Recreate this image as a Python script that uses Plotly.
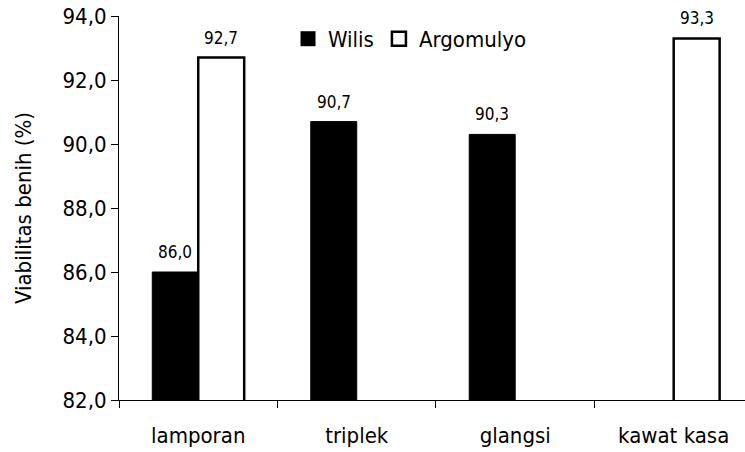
import plotly.graph_objects as go

# Seed viability by storage container, two soybean varieties
categories = ["lamporan", "triplek", "glangsi", "kawat kasa"]
wilis = [86.0, 90.7, 90.3, None]
argomulyo = [92.7, None, None, 93.3]
y_ticks = [82, 84, 86, 88, 90, 92, 94]

FONT = "DejaVu Sans Condensed, DejaVu Sans, sans-serif"

fig = go.Figure()

fig.add_trace(go.Bar(
    x=categories, y=wilis, name="Wilis", showlegend=False,
    marker=dict(color="black", line=dict(color="black", width=1)),
))
fig.add_trace(go.Bar(
    x=categories, y=argomulyo, name="Argomulyo", showlegend=False,
    marker=dict(color="white", line=dict(color="black", width=2.5)),
))

# Legend entries with larger square swatches
fig.add_trace(go.Scatter(
    x=[None], y=[None], mode="markers", name="Wilis",
    marker=dict(symbol="square", size=15, color="black",
                line=dict(color="black", width=0)),
))
fig.add_trace(go.Scatter(
    x=[None], y=[None], mode="markers", name="Argomulyo",
    marker=dict(symbol="square", size=14, color="white",
                line=dict(color="black", width=2.5)),
))

# Value labels above each bar
def fmt(v):
    return f"{v:.1f}".replace(".", ",")

for series, shift in ((wilis, -23), (argomulyo, 23)):
    for cat, v in zip(categories, series):
        if v is None:
            continue
        fig.add_annotation(
            x=cat, y=v, text=fmt(v), showarrow=False,
            xanchor="center", yanchor="bottom", xshift=shift, yshift=8,
            font=dict(family=FONT, size=17, color="black"),
        )

fig.update_layout(
    width=745, height=452,
    margin=dict(l=119, r=0, t=16, b=52),
    paper_bgcolor="white", plot_bgcolor="white",
    barmode="group", bargap=0.42, bargroupgap=0,
    separators=",.",
    font=dict(family=FONT, size=22, color="black"),
    legend=dict(
        orientation="h", x=0.27, xanchor="left", y=0.995, yanchor="top",
        font=dict(family=FONT, size=22, color="black"),
        bgcolor="rgba(0,0,0,0)", itemclick=False, itemdoubleclick=False,
    ),
)

fig.update_xaxes(
    type="category", range=[-0.5, 3.45],
    showline=True, linecolor="black", linewidth=1,
    ticks="outside", ticklen=7, tickcolor="black", tickson="boundaries",
    ticklabelstandoff=16,
    showgrid=False, zeroline=False,
    tickfont=dict(family=FONT, size=22, color="black"),
)
fig.update_yaxes(
    range=[82, 94], tickvals=y_ticks, tickformat=".1f",
    showline=True, linecolor="black", linewidth=1,
    ticks="outside", ticklen=7, tickcolor="black",
    showgrid=False, zeroline=False,
    tickfont=dict(family=FONT, size=22, color="black"),
    title=dict(text="Viabilitas benih (%)", standoff=24,
               font=dict(family=FONT, size=22, color="black")),
)

fig.write_html("out.html")
